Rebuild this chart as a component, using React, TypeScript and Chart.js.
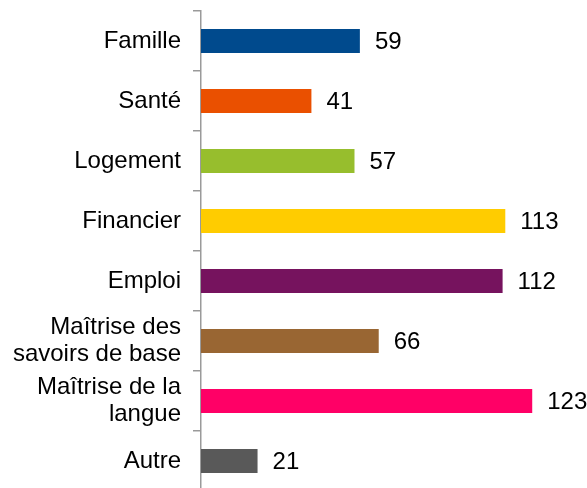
import React, { useEffect, useRef } from "react";
import { Chart, registerables } from "chart.js";

Chart.register(...registerables);

const categories: (string | string[])[] = [
  "Famille",
  "Santé",
  "Logement",
  "Financier",
  "Emploi",
  ["Maîtrise des", "savoirs de base"],
  ["Maîtrise de la", "langue"],
  "Autre",
];
const values: number[] = [59, 41, 57, 113, 112, 66, 123, 21];
const colors: string[] = [
  "#004A8D",
  "#EA5000",
  "#97BE2D",
  "#FFCC00",
  "#76135E",
  "#996633",
  "#FF0066",
  "#595959",
];

const valueLabels = {
  id: "valueLabels",
  afterDatasetsDraw(chart: any) {
    const ctx = chart.ctx;
    const meta = chart.getDatasetMeta(0);
    ctx.save();
    ctx.font = '24px "Liberation Sans", Arial, sans-serif';
    ctx.fillStyle = "#000";
    ctx.textAlign = "left";
    ctx.textBaseline = "middle";
    meta.data.forEach((bar: any, i: number) => {
      ctx.fillText(String(values[i]), bar.x + 15, bar.y + 1);
    });
    ctx.restore();
  },
};

export default function App() {
  const ref = useRef<HTMLCanvasElement>(null);
  useEffect(() => {
    if (!ref.current) return;
    const chart = new Chart(ref.current, {
      type: "bar",
      data: {
        labels: categories,
        datasets: [
          {
            data: values,
            backgroundColor: colors,
            borderWidth: 0,
            barPercentage: 1,
            categoryPercentage: 0.4,
          },
        ],
      },
      options: {
        indexAxis: "y",
        responsive: false,
        animation: false,
        devicePixelRatio: 1,
        layout: { padding: { top: 11, bottom: 9, left: 0, right: 9 } },
        plugins: { legend: { display: false }, tooltip: { enabled: false } },
        scales: {
          x: { display: false, min: 0, max: 140 },
          y: {
            afterFit: (scale: any) => {
              scale.width = 201;
              scale.paddingTop = 0;
              scale.paddingBottom = 0;
            },
            border: { display: true, color: "#9a9a9a", width: 1.5 },
            grid: {
              drawOnChartArea: false,
              drawTicks: true,
              tickLength: 8,
              color: "#9a9a9a",
              lineWidth: 1.5,
              offset: true,
            },
            ticks: {
              padding: 12,
              color: "#000",
              font: { family: '"Liberation Sans", Arial, sans-serif', size: 24, lineHeight: 1.1 },
            },
          },
        },
      },
      plugins: [valueLabels],
    });
    return () => chart.destroy();
  }, []);
  return (
    <div style={{ position: "fixed", left: 0, top: 0, width: 587, height: 488, overflow: "hidden", background: "#fff" }}>
      <canvas ref={ref} width={587} height={500} style={{ display: "block", width: 587, height: 500 }} />
    </div>
  );
}
